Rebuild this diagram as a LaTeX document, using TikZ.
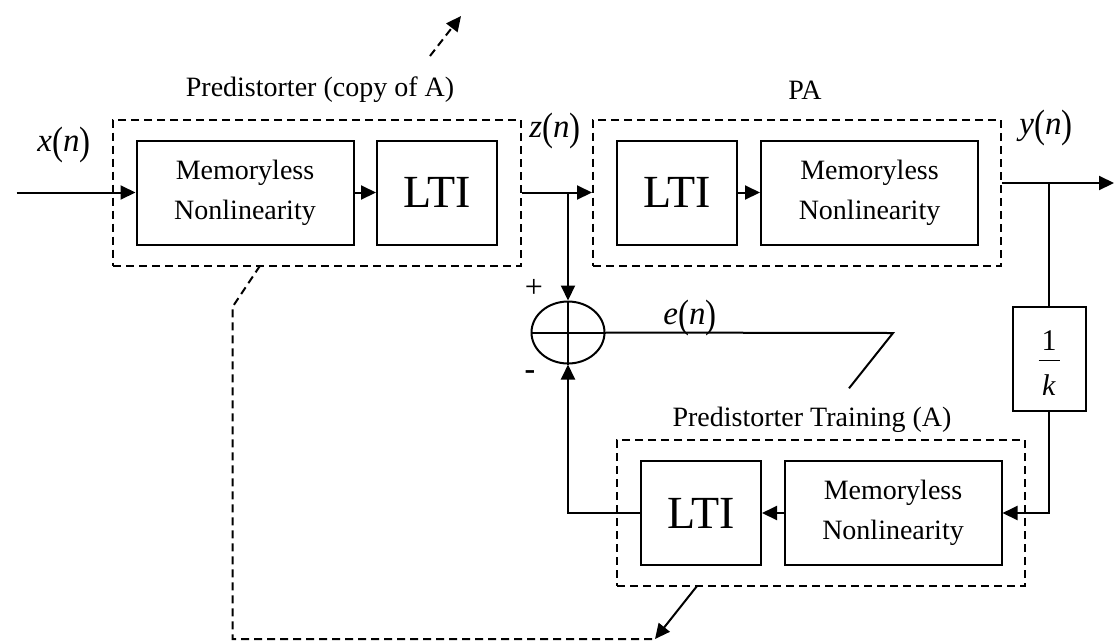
\documentclass[tikz,border=0pt]{standalone}
\usepackage{fontspec}
\setmainfont{Liberation Serif}
\usetikzlibrary{arrows.meta,shapes.geometric}
\newcommand{\tallpl}{\raisebox{-0.08em}{\scalebox{1}[1.2]{(}}}
\newcommand{\tallpr}{\raisebox{-0.08em}{\scalebox{1}[1.2]{)}}}
\begin{document}
\begin{tikzpicture}[x=1pt,y=-1pt,
  line width=2pt,
  >={Triangle[length=15pt,width=14pt]},
  blk/.style={draw,minimum height=104pt,inner sep=0pt,align=center,font=\fontsize{28}{40}\selectfont},
  ltibox/.style={blk,minimum width=120pt,font=\fontsize{46}{50}\selectfont},
  nlbox/.style={blk,minimum width=217pt},
  grp/.style={draw,dash pattern=on 8pt off 5pt,minimum width=408pt,minimum height=146pt,inner sep=0pt},
  dsh/.style={dash pattern=on 8pt off 5pt},
  lbl/.style={font=\fontsize{28}{34}\selectfont,inner sep=0pt},
  sig/.style={font=\fontsize{33}{36}\selectfont,inner sep=0pt},
]
\useasboundingbox (0,0) rectangle (1115,641);

% groups
\node[grp] (pd) at (317,192.5) {};
\node[grp] (pa) at (797,192.5) {};
\node[grp] (td) at (821,513) {};

% blocks
\node[nlbox] (pm) at (245,192.5) {Memoryless\\Nonlinearity};
\node[ltibox] (pl) at (437,192.5) {LTI};
\node[ltibox] (al) at (677,192.5) {LTI};
\node[nlbox] (am) at (869.5,192.5) {Memoryless\\Nonlinearity};
\node[ltibox] (tl) at (701,513) {LTI};
\node[nlbox] (tm) at (893,513) {Memoryless\\Nonlinearity};
\node[draw,minimum width=73pt,minimum height=104pt,inner sep=0pt,align=center,
      font=\fontsize{30}{36}\selectfont] (k) at (1049,358.7)
      {\rule{0pt}{28.3pt}1\\[-25pt]\rule{21pt}{1.2pt}\\[-2pt]\textit{k}};
\node[ellipse,draw,minimum width=73pt,minimum height=62pt,inner sep=0pt] (s) at (568,332.5) {};
\draw (s.north) -- (s.south);
\draw (s.west) -- (s.east);

% labels
\node[lbl] (lp) at (320,90) {Predistorter (copy of A)};
\node[lbl] (lpa) at (805,90) {PA};
\node[lbl] (lt) at (812,420) {Predistorter Training (A)};
\node[sig] (lx) at (64,145) {\textit{x}\tallpl\textit{n}\tallpr};
\node[sig] (lz) at (555,131) {\textit{z}\tallpl\textit{n}\tallpr};
\node[sig] (ly) at (1046,128) {\textit{y}\tallpl\textit{n}\tallpr};
\node[sig] (le) at (690,318) {\textit{e}\tallpl\textit{n}\tallpr};
\node[lbl,font=\fontsize{32}{34}\selectfont] (lplus) at (534,288) {+};
\node[lbl,font=\fontsize{32}{34}\selectfont\bfseries] (lminus) at (530,375) {-};

% coordinates
\coordinate (in) at (16.7,192.5);
\coordinate (zb) at (568,192.5);
\coordinate (po) at ([yshift=9.5pt]pa.east);
\coordinate (yb) at (1049,183);
\coordinate (out) at (1114,183);
\coordinate (e1) at (893,333);
\coordinate (e2) at (849,388.3);
\coordinate (t1) at (697,586);
\coordinate (t2) at (655,639);
\coordinate (d1) at (260,265.7);
\coordinate (d2) at (232.7,306.7);
\coordinate (d3) at (232.7,639);
\coordinate (d4) at (652,639);
\coordinate (u1) at (430,56);
\coordinate (u2) at (461,16);

% forward path
\draw[->] (in) -- (pm.west);
\draw[->] (pm.east) -- (pl.west);
\draw[->] (pd.east) -- (pa.west);
\draw[->] (al.east) -- (am.west);
\draw[->] (po) -- (out);
\draw[->] (zb) -- (s.north);
\draw (yb) -- (k.north);
\draw[->] (k.south) |- (tm.east);
\draw[->] (tm.west) -- (tl.east);
\draw[->] (tl.west) -| (s.south);

% error / adaptation
\draw (s.east) -- (e1) -- (e2);
\draw[->] (t1) -- (t2);
\draw[dsh] (d1) -- (d2) -- (d3) -- (d4);
\draw[dsh,->] (u1) -- (u2);
\end{tikzpicture}
\end{document}
